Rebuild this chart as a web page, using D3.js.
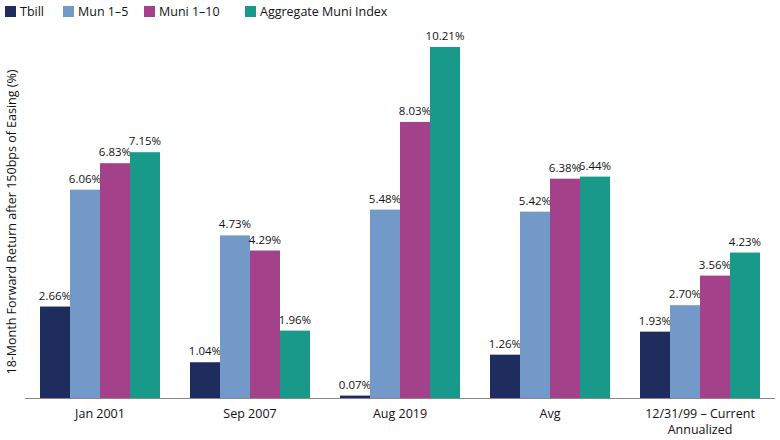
<!DOCTYPE html>
<html><head><meta charset="utf-8">
<script src="https://cdn.jsdelivr.net/npm/d3@7"></script>
<style>body{margin:0;background:#fff}text{font-family:"Open Sans",sans-serif;fill:#111}</style>
</head><body><svg id="c" width="780" height="440"></svg>
<script>
const categories = ["Jan 2001","Sep 2007","Aug 2019","Avg","12/31/99 – Current|Annualized"];
const seriesNames = ["Tbill","Mun 1–5","Muni 1–10","Aggregate Muni Index"];
const colors = ["#1f2c5e","#7299c7","#a3418b","#18998a"];
const tbill = [2.66,1.04,0.07,1.26,1.93];
const mun15 = [6.06,4.73,5.48,5.42,2.70];
const muni110 = [6.83,4.29,8.03,6.38,3.56];
const aggregate = [7.15,1.96,10.21,6.44,4.23];
const series = [tbill,mun15,muni110,aggregate];

const svg = d3.select("#c");
const x = d3.scaleBand().domain(categories).range([25,775]).paddingInner(0.2).paddingOuter(0.1);
const x1 = d3.scaleBand().domain(d3.range(4)).range([0,x.bandwidth()]);
const y = d3.scaleLinear().domain([0,10.21]).range([398,47]);

categories.forEach((c,i)=>{
  series.forEach((s,j)=>{
    const bx = x(c)+x1(j);
    svg.append("rect").attr("x",bx).attr("y",y(s[i])).attr("width",x1.bandwidth()).attr("height",y(0)-y(s[i])).attr("fill",colors[j]);
    svg.append("text").attr("x",bx+x1.bandwidth()/2).attr("y",y(s[i])-7).attr("text-anchor","middle").attr("font-size",11.5).text(s[i].toFixed(2)+"%");
  });
  c.split("|").forEach((l,k)=>svg.append("text").attr("x",x(c)+x.bandwidth()/2).attr("y",418+k*16).attr("text-anchor","middle").attr("font-size",12.5).text(l));
});
svg.append("line").attr("x1",25).attr("x2",775).attr("y1",398.5).attr("y2",398.5).attr("stroke","#888");
svg.append("text").attr("transform","translate(16,222) rotate(-90)").attr("text-anchor","middle").attr("font-size",12.5).text("18-Month Forward Return after 150bps of Easing (%)");
const lx=[5,63,144,245];
seriesNames.forEach((n,j)=>{
  svg.append("rect").attr("x",lx[j]).attr("y",6).attr("width",11).attr("height",11).attr("fill",colors[j]);
  svg.append("text").attr("x",lx[j]+15).attr("y",16).attr("font-size",12.5).text(n);
});
</script></body></html>
